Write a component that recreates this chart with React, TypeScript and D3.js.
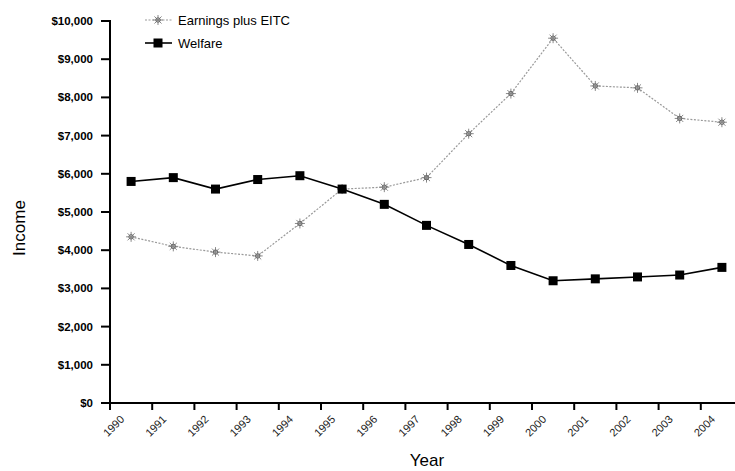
import React from "react";
import * as d3 from "d3";

const years = ["1990","1991","1992","1993","1994","1995","1996","1997","1998","1999","2000","2001","2002","2003","2004"];
const earningsPlusEITC = [4350,4100,3950,3850,4700,5600,5650,5900,7050,8100,9550,8300,8250,7450,7350];
const welfare = [5800,5900,5600,5850,5950,5600,5200,4650,4150,3600,3200,3250,3300,3350,3550];
const yTicks = [0,1000,2000,3000,4000,5000,6000,7000,8000,9000,10000];
const seriesNames = ["Earnings plus EITC", "Welfare"];

const W = 735, H = 471;
const left = 110, top = 21, bottom = 403;

function Star({ x, y }: { x: number; y: number }) {
  const r = 5;
  const lines = [0, 45, 90, 135].map((a) => {
    const rad = (a * Math.PI) / 180;
    return (
      <line key={a} x1={x - r * Math.cos(rad)} y1={y - r * Math.sin(rad)} x2={x + r * Math.cos(rad)} y2={y + r * Math.sin(rad)} stroke="#888" strokeWidth={1} />
    );
  });
  return <g>{lines}<circle cx={x} cy={y} r={2.2} fill="none" stroke="#666" strokeWidth={1} /></g>;
}

export default function App() {
  const x = d3.scaleBand<string>().domain(years).range([left, 743]);
  const y = d3.scaleLinear().domain([0, 10000]).range([bottom, top]);
  const cx = (d: string) => (x(d) as number) + x.bandwidth() / 2;
  const line = d3.line<number>().x((_, i) => cx(years[i])).y((v) => y(v));
  const fmt = (v: number) => "$" + d3.format(",")(v);

  return (
    <svg width={W} height={H} style={{ position: "absolute", left: 0, top: 0, background: "#fff" }} fontFamily="Arial, 'Liberation Sans', sans-serif">
      {/* y axis */}
      <line x1={left} y1={top - 1} x2={left} y2={bottom} stroke="#000" strokeWidth={2} />
      {yTicks.map((t) => (
        <g key={t}>
          <line x1={left - 9} x2={left} y1={y(t)} y2={y(t)} stroke="#000" strokeWidth={2} />
          <text x={93} y={y(t)} dy="0.35em" textAnchor="end" fontSize={11.5} fontWeight="bold">{fmt(t)}</text>
        </g>
      ))}
      {/* x axis */}
      <line x1={left} y1={bottom} x2={W} y2={bottom} stroke="#000" strokeWidth={2} />
      {years.map((yr) => {
        const xs = x(yr) as number;
        return (
          <g key={yr}>
            <line x1={xs} x2={xs} y1={bottom} y2={bottom + 7} stroke="#000" strokeWidth={2} />
            <text transform={`translate(${xs + 15},${420}) rotate(-45)`} textAnchor="end" fontSize={11} fill="#222">{yr}</text>
          </g>
        );
      })}
      <text x={427} y={466} textAnchor="middle" fontSize={17}>Year</text>
      <text transform={`translate(25,${228}) rotate(-90)`} textAnchor="middle" fontSize={17}>Income</text>

      {/* earnings line */}
      <path d={line(earningsPlusEITC) || ""} fill="none" stroke="#999" strokeWidth={1.2} strokeDasharray="2,1.5" />
      {earningsPlusEITC.map((v, i) => <Star key={i} x={cx(years[i])} y={y(v)} />)}
      {/* welfare line */}
      <path d={line(welfare) || ""} fill="none" stroke="#000" strokeWidth={1.6} />
      {welfare.map((v, i) => (
        <rect key={i} x={cx(years[i]) - 4.5} y={y(v) - 4.5} width={9} height={9} fill="#000" />
      ))}

      {/* legend */}
      <line x1={145} x2={172} y1={20} y2={20} stroke="#999" strokeWidth={1.2} strokeDasharray="2,1.5" />
      <Star x={158} y={20} />
      <text x={178} y={20} dy="0.35em" fontSize={13}>{seriesNames[0]}</text>
      <line x1={145} x2={172} y1={43} y2={43} stroke="#000" strokeWidth={1.6} />
      <rect x={153.5} y={38.5} width={9} height={9} fill="#000" />
      <text x={178} y={43} dy="0.35em" fontSize={13}>{seriesNames[1]}</text>
    </svg>
  );
}
